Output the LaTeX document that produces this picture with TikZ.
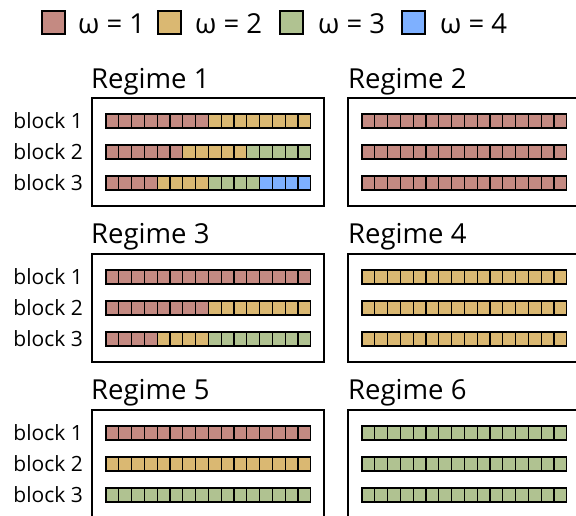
\documentclass[tikz,border=0pt]{standalone}
\usepackage{fontspec}
\setmainfont{Open Sans}
\definecolor{cR}{RGB}{196,138,130}
\definecolor{cY}{RGB}{218,184,114}
\definecolor{cG}{RGB}{176,194,145}
\definecolor{cB}{RGB}{126,176,255}
\tikzset{
  cellbox/.style={draw=black, line width=1.3pt},
  regbox/.style={draw=black, line width=2pt, minimum width=232pt, minimum height=108pt,
                 anchor=north west, inner sep=0pt},
  regtitle/.style={anchor=base west, inner sep=0pt, font=\fontsize{27.5}{32}\selectfont},
  blocklabel/.style={anchor=east, inner sep=0pt, font=\fontsize{21}{25}\selectfont},
  legsq/.style={draw=black, line width=2pt, minimum size=23pt, inner sep=0pt},
  legtext/.style={anchor=base west, inner sep=0pt, font=\fontsize{27.5}{32}\selectfont},
}
% #1: row index (1..3), #2: first cell, #3: number of cells, #4: colour
\newcommand\cellseg[4]{%
  \foreach \i in {1,...,#3} {
    \draw[cellbox, fill=#4] ({15+(#2+\i-1)*12.8},{24+(#1-1)*31-7}) rectangle ++(12.8,14);
  }}
\begin{document}
\begin{tikzpicture}[x=1pt, y=-1pt]
\useasboundingbox (0,0) rectangle (576,515);

% legend
\node[legsq, fill=cR] (l1) at (53,22.5) {};
\node[legtext] (t1) at (78,33.5) {ω = 1};
\node[legsq, fill=cY] (l2) at (169.5,22.5) {};
\node[legtext] (t2) at (195,33.5) {ω = 2};
\node[legsq, fill=cG] (l3) at (291.5,22.5) {};
\node[legtext] (t3) at (318,33.5) {ω = 3};
\node[legsq, fill=cB] (l4) at (413,22.5) {};
\node[legtext] (t4) at (440,33.5) {ω = 4};

% regime frames and titles
\node[regbox] (r1) at (91,97) {};
\node[regtitle] (h1) at (91,88) {Regime 1};
\node[regbox] (r2) at (347,97) {};
\node[regtitle] (h2) at (348,88) {Regime 2};
\node[regbox] (r3) at (91,253) {};
\node[regtitle] (h3) at (91,243) {Regime 3};
\node[regbox] (r4) at (347,253) {};
\node[regtitle] (h4) at (348,243) {Regime 4};
\node[regbox] (r5) at (91,409) {};
\node[regtitle] (h5) at (91,399) {Regime 5};
\node[regbox] (r6) at (347,409) {};
\node[regtitle] (h6) at (348,399) {Regime 6};

% block labels
\foreach \top/\k in {97/a, 253/b, 409/c} {
  \node[blocklabel] (\k1) at (83,\top+24) {block 1};
  \node[blocklabel] (\k2) at (83,\top+55) {block 2};
  \node[blocklabel] (\k3) at (83,\top+86) {block 3};
}

% Regime 1
\begin{scope}[shift={(91,97)}]
  \cellseg{1}{0}{8}{cR} \cellseg{1}{8}{8}{cY}
  \cellseg{2}{0}{6}{cR} \cellseg{2}{6}{5}{cY} \cellseg{2}{11}{5}{cG}
  \cellseg{3}{0}{4}{cR} \cellseg{3}{4}{4}{cY} \cellseg{3}{8}{4}{cG} \cellseg{3}{12}{4}{cB}
\end{scope}
% Regime 2
\begin{scope}[shift={(347,97)}]
  \cellseg{1}{0}{16}{cR} \cellseg{2}{0}{16}{cR} \cellseg{3}{0}{16}{cR}
\end{scope}
% Regime 3
\begin{scope}[shift={(91,253)}]
  \cellseg{1}{0}{16}{cR}
  \cellseg{2}{0}{8}{cR} \cellseg{2}{8}{8}{cY}
  \cellseg{3}{0}{4}{cR} \cellseg{3}{4}{4}{cY} \cellseg{3}{8}{8}{cG}
\end{scope}
% Regime 4
\begin{scope}[shift={(347,253)}]
  \cellseg{1}{0}{16}{cY} \cellseg{2}{0}{16}{cY} \cellseg{3}{0}{16}{cY}
\end{scope}
% Regime 5
\begin{scope}[shift={(91,409)}]
  \cellseg{1}{0}{16}{cR} \cellseg{2}{0}{16}{cY} \cellseg{3}{0}{16}{cG}
\end{scope}
% Regime 6
\begin{scope}[shift={(347,409)}]
  \cellseg{1}{0}{16}{cG} \cellseg{2}{0}{16}{cG} \cellseg{3}{0}{16}{cG}
\end{scope}
\end{tikzpicture}
\end{document}
